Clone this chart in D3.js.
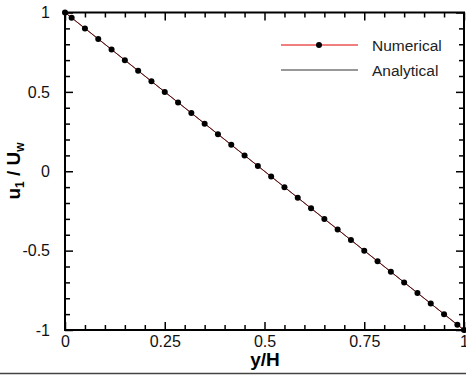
<!DOCTYPE html>
<html>
<head>
<meta charset="utf-8">
<script src="https://cdn.jsdelivr.net/npm/d3@7"></script>
<style>
  body { margin: 0; background: #fff; }
  svg { display: block; font-family: "Liberation Sans", Arial, Helvetica, sans-serif; }
</style>
</head>
<body>
<svg id="chart" width="466" height="377"></svg>
<script>
// numerical solution (cell centres + walls)
var numY = [0, 0.01667, 0.05, 0.08333, 0.11667, 0.15, 0.18333, 0.21667, 0.25, 0.28333,
  0.31667, 0.35, 0.38333, 0.41667, 0.45, 0.48333, 0.51667, 0.55, 0.58333, 0.61667,
  0.65, 0.68333, 0.71667, 0.75, 0.78333, 0.81667, 0.85, 0.88333, 0.91667, 0.95, 0.98333, 1];
var numU = [1, 0.96667, 0.9, 0.83333, 0.76667, 0.7, 0.63333, 0.56667, 0.5, 0.43333,
  0.36667, 0.3, 0.23333, 0.16667, 0.1, 0.03333, -0.03333, -0.1, -0.16667, -0.23333,
  -0.3, -0.36667, -0.43333, -0.5, -0.56667, -0.63333, -0.7, -0.76667, -0.83333, -0.9, -0.96667, -1];
// analytical solution
var anaY = [0, 1];
var anaU = [1, -1];

var xTicks = [0, 0.25, 0.5, 0.75, 1];
var xTickLabels = ["0", "0.25", "0.5", "0.75", "1"];
var xMinor = [0.05, 0.1, 0.15, 0.2, 0.3, 0.35, 0.4, 0.45, 0.55, 0.6, 0.65, 0.7, 0.8, 0.85, 0.9, 0.95];
var yTicks = [-1, -0.5, 0, 0.5, 1];
var yTickLabels = ["-1", "-0.5", "0", "0.5", "1"];
var yMinor = [-0.9, -0.8, -0.7, -0.6, -0.4, -0.3, -0.2, -0.1, 0.1, 0.2, 0.3, 0.4, 0.6, 0.7, 0.8, 0.9];

var seriesNames = ["Numerical", "Analytical"];

var svg = d3.select("#chart");
var mLeft = 65, mRight = 464, mTop = 12.5, mBottom = 330;

var x = d3.scaleLinear().domain([0, 1]).range([mLeft, mRight]);
var y = d3.scaleLinear().domain([-1, 1]).range([mBottom, mTop]);

function styleAxis(g) {
  g.select(".domain").remove();
  g.selectAll(".tick line").attr("stroke", "#000").attr("stroke-width", 1.5);
  g.selectAll(".tick text").attr("font-size", 16).attr("fill", "#111")
    .attr("font-family", "'Liberation Sans', Arial, sans-serif");
}

// bottom / top ticks
svg.append("g").attr("transform", "translate(0," + mBottom + ")")
  .call(d3.axisBottom(x).tickValues(xTicks).tickSize(-8).tickPadding(6)
    .tickFormat(function(d, i) { return xTickLabels[i]; }))
  .call(styleAxis);
svg.append("g").attr("transform", "translate(0," + mBottom + ")")
  .call(d3.axisBottom(x).tickValues(xMinor).tickSize(-5).tickFormat(""))
  .call(styleAxis);
svg.append("g").attr("transform", "translate(0," + mTop + ")")
  .call(d3.axisTop(x).tickValues(xTicks).tickSize(-8).tickFormat(""))
  .call(styleAxis);
svg.append("g").attr("transform", "translate(0," + mTop + ")")
  .call(d3.axisTop(x).tickValues(xMinor).tickSize(-5).tickFormat(""))
  .call(styleAxis);

// left / right ticks
svg.append("g").attr("transform", "translate(" + mLeft + ",0)")
  .call(d3.axisLeft(y).tickValues(yTicks).tickSize(-8).tickPadding(15)
    .tickFormat(function(d, i) { return yTickLabels[i]; }))
  .call(styleAxis);
svg.append("g").attr("transform", "translate(" + mLeft + ",0)")
  .call(d3.axisLeft(y).tickValues(yMinor).tickSize(-5).tickFormat(""))
  .call(styleAxis);
svg.append("g").attr("transform", "translate(" + mRight + ",0)")
  .call(d3.axisRight(y).tickValues(yTicks).tickSize(-8).tickFormat(""))
  .call(styleAxis);
svg.append("g").attr("transform", "translate(" + mRight + ",0)")
  .call(d3.axisRight(y).tickValues(yMinor).tickSize(-5).tickFormat(""))
  .call(styleAxis);

// data
var numData = numY.map(function(d, i) { return [d, numU[i]]; });
var anaData = anaY.map(function(d, i) { return [d, anaU[i]]; });
var line = d3.line().x(function(d) { return x(d[0]); }).y(function(d) { return y(d[1]); });

svg.append("path").attr("d", line(numData))
  .attr("fill", "none").attr("stroke", "#e00000").attr("stroke-width", 1);
svg.append("path").attr("d", line(anaData))
  .attr("fill", "none").attr("stroke", "#222").attr("stroke-width", 1).attr("opacity", 0.85);
svg.selectAll("circle.pt").data(numData).enter().append("circle")
  .attr("class", "pt")
  .attr("cx", function(d) { return x(d[0]); })
  .attr("cy", function(d) { return y(d[1]); })
  .attr("r", 3).attr("fill", "#000");

// frame
svg.append("rect").attr("x", mLeft).attr("y", mTop)
  .attr("width", mRight - mLeft).attr("height", mBottom - mTop)
  .attr("fill", "none").attr("stroke", "#000").attr("stroke-width", 2);

// legend
var leg = svg.append("g");
leg.append("line").attr("x1", 281).attr("x2", 358).attr("y1", 45).attr("y2", 45)
  .attr("stroke", "#e00000").attr("stroke-width", 1);
leg.append("circle").attr("cx", 319).attr("cy", 45).attr("r", 3).attr("fill", "#000");
leg.append("line").attr("x1", 281).attr("x2", 358).attr("y1", 70).attr("y2", 70)
  .attr("stroke", "#333").attr("stroke-width", 1.2);
leg.selectAll("text").data(seriesNames).enter().append("text")
  .attr("x", 372).attr("y", function(d, i) { return 50.5 + i * 25; })
  .attr("font-size", 15.5).attr("fill", "#222")
  .text(function(d) { return d; });

// axis titles
svg.append("text").attr("x", 265).attr("y", 366).attr("text-anchor", "middle")
  .attr("font-size", 19).attr("font-weight", "bold").text("y/H");

var yl = svg.append("text").attr("transform", "translate(20,171) rotate(-90)")
  .attr("text-anchor", "middle").attr("font-size", 19).attr("font-weight", "bold");
yl.append("tspan").text("u");
yl.append("tspan").attr("font-size", 12).attr("dy", 4).text("1");
yl.append("tspan").attr("dy", -4).text(" / U");
yl.append("tspan").attr("font-size", 12).attr("dy", 4).text("w");

// bottom rule
svg.append("line").attr("x1", 0).attr("x2", 466).attr("y1", 373.5).attr("y2", 373.5)
  .attr("stroke", "#444").attr("stroke-width", 1.5);
</script>
</body>
</html>
